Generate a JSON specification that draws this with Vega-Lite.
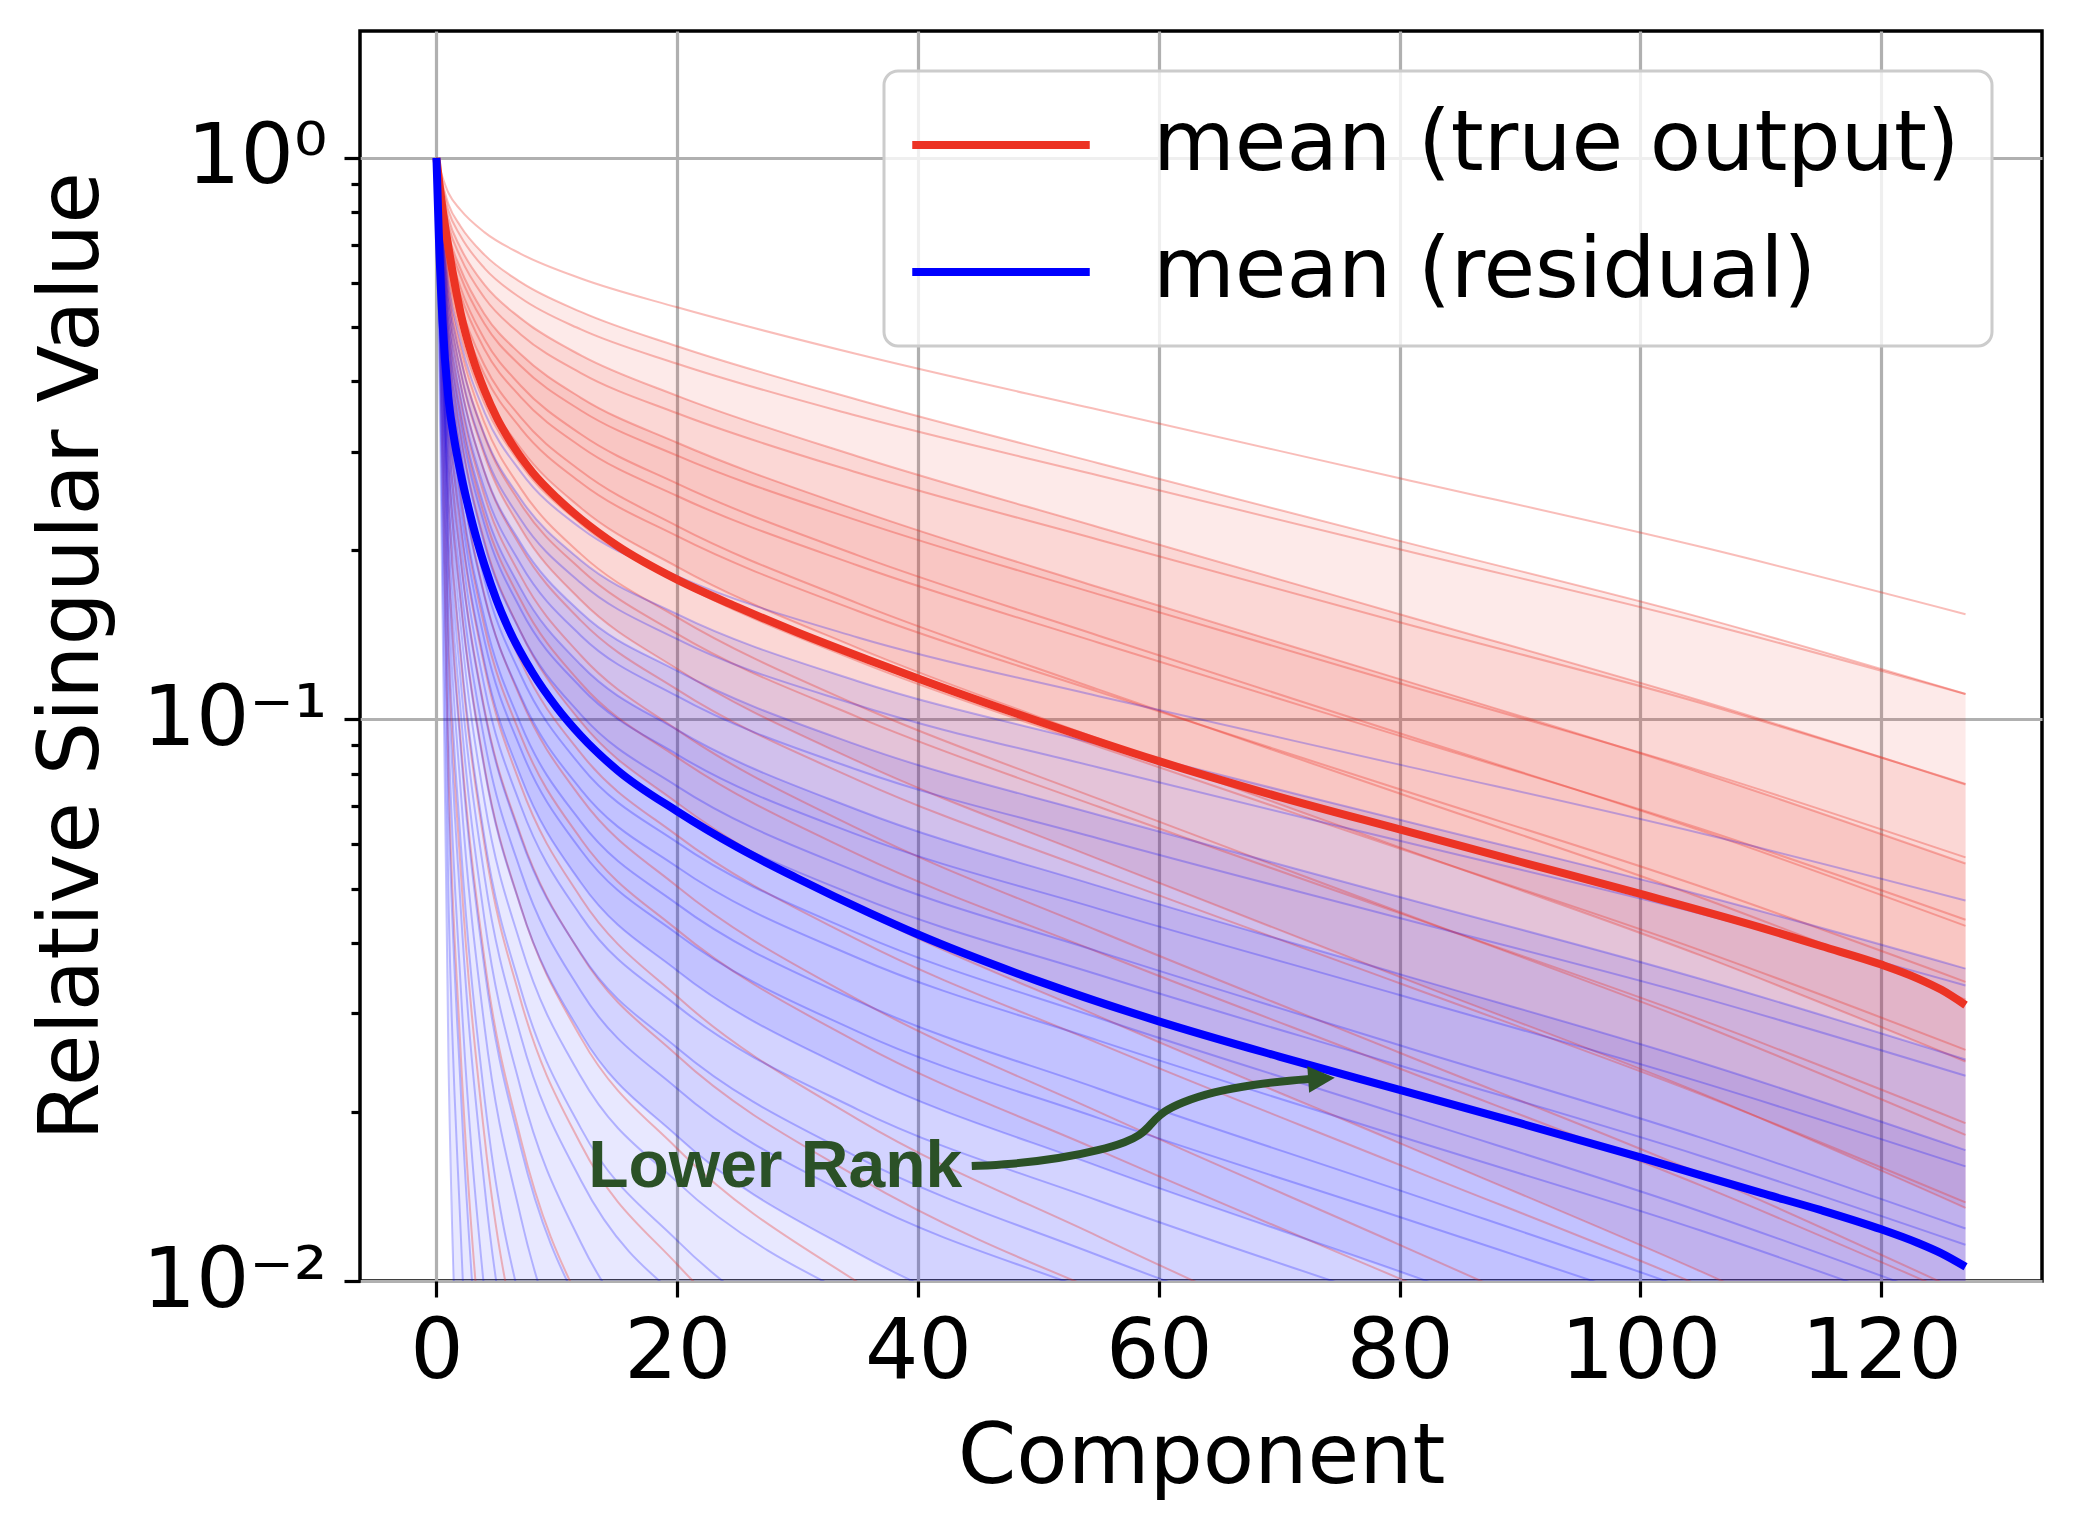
{
  "$schema": "https://vega.github.io/schema/vega-lite/v6.json",
  "width": 1682,
  "height": 1250,
  "autosize": {"type": "none"},
  "padding": {"left": 360, "top": 31, "right": 36, "bottom": 249},
  "background": "white",
  "config": {
    "font": "DejaVu Sans",
    "view": {"stroke": "black", "strokeWidth": 3.5},
    "axis": {
      "domain": false,
      "gridColor": "#b0b0b0",
      "gridWidth": 3.2,
      "tickColor": "black",
      "tickWidth": 3.2,
      "labelColor": "black",
      "titleColor": "black",
      "labelFont": "DejaVu Sans",
      "titleFont": "DejaVu Sans",
      "labelFontSize": 84,
      "titleFontSize": 84,
      "titleFontWeight": "normal",
      "labelLimit": 0
    },
    "legend": {"strokeWidth": 3, "strokeColor": "#cccccc", "fillColor": "rgba(255,255,255,0.8)", "cornerRadius": 14}
  },
  "datasets": {
    "redA1": [
      {"x":0,"y":1,"y2":1},{"x":1,"y":0.827,"y2":0.458},{"x":2,"y":0.756,"y2":0.322},{"x":4,"y":0.672,"y2":0.207},{"x":7,"y":0.601,"y2":0.143},{"x":12,"y":0.532,"y2":0.099},{"x":20,"y":0.462,"y2":0.071},{"x":35,"y":0.371,"y2":0.046},{"x":55,"y":0.286,"y2":0.0296},{"x":80,"y":0.208,"y2":0.0176},{"x":105,"y":0.152,"y2":0.0104},{"x":127,"y":0.111,"y2":0.0063}
    ],
    "redA2": [
      {"x":0,"y":1,"y2":1},{"x":1,"y":0.779,"y2":0.548},{"x":2,"y":0.692,"y2":0.416},{"x":4,"y":0.594,"y2":0.295},{"x":7,"y":0.518,"y2":0.219},{"x":12,"y":0.445,"y2":0.163},{"x":20,"y":0.377,"y2":0.123},{"x":35,"y":0.294,"y2":0.0842},{"x":55,"y":0.22,"y2":0.0564},{"x":80,"y":0.154,"y2":0.0348},{"x":105,"y":0.108,"y2":0.0216},{"x":127,"y":0.0766,"y2":0.0135}
    ],
    "redA3": [
      {"x":0,"y":1,"y2":1},{"x":1,"y":0.733,"y2":0.627},{"x":2,"y":0.635,"y2":0.505},{"x":4,"y":0.527,"y2":0.385},{"x":7,"y":0.447,"y2":0.304},{"x":12,"y":0.374,"y2":0.238},{"x":20,"y":0.311,"y2":0.187},{"x":35,"y":0.236,"y2":0.134},{"x":55,"y":0.172,"y2":0.0924},{"x":80,"y":0.118,"y2":0.0592},{"x":105,"y":0.0804,"y2":0.038},{"x":127,"y":0.0554,"y2":0.0246}
    ],
    "blueA1": [
      {"x":0,"y":1,"y2":1},{"x":1,"y":0.568,"y2":0.03},{"x":2,"y":0.441,"y2":0.004},{"x":4,"y":0.321,"y2":0.002},{"x":7,"y":0.247,"y2":0.002},{"x":12,"y":0.192,"y2":0.002},{"x":20,"y":0.154,"y2":0.002},{"x":35,"y":0.117,"y2":0.002},{"x":55,"y":0.0903,"y2":0.002},{"x":80,"y":0.0663,"y2":0.002},{"x":105,"y":0.0487,"y2":0.002},{"x":127,"y":0.036,"y2":0.002}
    ],
    "blueA2": [
      {"x":0,"y":1,"y2":1},{"x":1,"y":0.527,"y2":0.284},{"x":2,"y":0.396,"y2":0.162},{"x":4,"y":0.276,"y2":0.0812},{"x":7,"y":0.206,"y2":0.0463},{"x":12,"y":0.155,"y2":0.0276},{"x":20,"y":0.122,"y2":0.0181},{"x":35,"y":0.09,"y2":0.0112},{"x":55,"y":0.0676,"y2":0.0074},{"x":80,"y":0.0483,"y2":0.005},{"x":105,"y":0.0345,"y2":0.003},{"x":127,"y":0.0248,"y2":0.002}
    ],
    "blueA3": [
      {"x":0,"y":1,"y2":1},{"x":1,"y":0.489,"y2":0.355},{"x":2,"y":0.355,"y2":0.224},{"x":4,"y":0.238,"y2":0.126},{"x":7,"y":0.171,"y2":0.0791},{"x":12,"y":0.125,"y2":0.0512},{"x":20,"y":0.0958,"y2":0.0357},{"x":35,"y":0.069,"y2":0.0234},{"x":55,"y":0.0505,"y2":0.016},{"x":80,"y":0.0352,"y2":0.0104},{"x":105,"y":0.0245,"y2":0.0067},{"x":127,"y":0.0171,"y2":0.0045}
    ],
    "red": [
      {"id":"R1","x":0,"y":1},{"id":"R1","x":1,"y":0.866},{"id":"R1","x":2,"y":0.808},{"id":"R1","x":4,"y":0.737},{"id":"R1","x":7,"y":0.675},{"id":"R1","x":12,"y":0.61},{"id":"R1","x":20,"y":0.542},{"id":"R1","x":35,"y":0.447},{"id":"R1","x":55,"y":0.356},{"id":"R1","x":80,"y":0.269},{"id":"R1","x":105,"y":0.203},{"id":"R1","x":127,"y":0.154},
      {"id":"R2","x":0,"y":1},{"id":"R2","x":1,"y":0.827},{"id":"R2","x":2,"y":0.756},{"id":"R2","x":4,"y":0.672},{"id":"R2","x":7,"y":0.601},{"id":"R2","x":12,"y":0.532},{"id":"R2","x":20,"y":0.462},{"id":"R2","x":35,"y":0.371},{"id":"R2","x":55,"y":0.286},{"id":"R2","x":80,"y":0.208},{"id":"R2","x":105,"y":0.152},{"id":"R2","x":127,"y":0.111},
      {"id":"R3","x":0,"y":1},{"id":"R3","x":1,"y":0.804},{"id":"R3","x":2,"y":0.726},{"id":"R3","x":4,"y":0.636},{"id":"R3","x":7,"y":0.563},{"id":"R3","x":12,"y":0.495},{"id":"R3","x":20,"y":0.43},{"id":"R3","x":35,"y":0.347},{"id":"R3","x":55,"y":0.272},{"id":"R3","x":80,"y":0.201},{"id":"R3","x":105,"y":0.149},{"id":"R3","x":127,"y":0.111},
      {"id":"R4","x":0,"y":1},{"id":"R4","x":1,"y":0.779},{"id":"R4","x":2,"y":0.692},{"id":"R4","x":4,"y":0.594},{"id":"R4","x":7,"y":0.518},{"id":"R4","x":12,"y":0.445},{"id":"R4","x":20,"y":0.377},{"id":"R4","x":35,"y":0.294},{"id":"R4","x":55,"y":0.22},{"id":"R4","x":80,"y":0.154},{"id":"R4","x":105,"y":0.108},{"id":"R4","x":127,"y":0.0766},
      {"id":"R5","x":0,"y":1},{"id":"R5","x":1,"y":0.757},{"id":"R5","x":2,"y":0.665},{"id":"R5","x":4,"y":0.563},{"id":"R5","x":7,"y":0.485},{"id":"R5","x":12,"y":0.414},{"id":"R5","x":20,"y":0.351},{"id":"R5","x":35,"y":0.275},{"id":"R5","x":55,"y":0.209},{"id":"R5","x":80,"y":0.149},{"id":"R5","x":105,"y":0.107},{"id":"R5","x":127,"y":0.0768},
      {"id":"R6","x":0,"y":1},{"id":"R6","x":1,"y":0.733},{"id":"R6","x":2,"y":0.635},{"id":"R6","x":4,"y":0.527},{"id":"R6","x":7,"y":0.447},{"id":"R6","x":12,"y":0.374},{"id":"R6","x":20,"y":0.311},{"id":"R6","x":35,"y":0.236},{"id":"R6","x":55,"y":0.172},{"id":"R6","x":80,"y":0.118},{"id":"R6","x":105,"y":0.0804},{"id":"R6","x":127,"y":0.0554},
      {"id":"R7","x":0,"y":1},{"id":"R7","x":1,"y":0.718},{"id":"R7","x":2,"y":0.616},{"id":"R7","x":4,"y":0.506},{"id":"R7","x":7,"y":0.426},{"id":"R7","x":12,"y":0.355},{"id":"R7","x":20,"y":0.295},{"id":"R7","x":35,"y":0.226},{"id":"R7","x":55,"y":0.167},{"id":"R7","x":80,"y":0.116},{"id":"R7","x":105,"y":0.081},{"id":"R7","x":127,"y":0.0568},
      {"id":"R8","x":0,"y":1},{"id":"R8","x":1,"y":0.696},{"id":"R8","x":2,"y":0.588},{"id":"R8","x":4,"y":0.475},{"id":"R8","x":7,"y":0.393},{"id":"R8","x":12,"y":0.322},{"id":"R8","x":20,"y":0.263},{"id":"R8","x":35,"y":0.196},{"id":"R8","x":55,"y":0.141},{"id":"R8","x":80,"y":0.0945},{"id":"R8","x":105,"y":0.0634},{"id":"R8","x":127,"y":0.0429},
      {"id":"R9","x":0,"y":1},{"id":"R9","x":1,"y":0.681},{"id":"R9","x":2,"y":0.571},{"id":"R9","x":4,"y":0.456},{"id":"R9","x":7,"y":0.375},{"id":"R9","x":12,"y":0.306},{"id":"R9","x":20,"y":0.25},{"id":"R9","x":35,"y":0.188},{"id":"R9","x":55,"y":0.137},{"id":"R9","x":80,"y":0.0935},{"id":"R9","x":105,"y":0.0639},{"id":"R9","x":127,"y":0.044},
      {"id":"R10","x":0,"y":1},{"id":"R10","x":1,"y":0.66},{"id":"R10","x":2,"y":0.545},{"id":"R10","x":4,"y":0.427},{"id":"R10","x":7,"y":0.345},{"id":"R10","x":12,"y":0.277},{"id":"R10","x":20,"y":0.221},{"id":"R10","x":35,"y":0.161},{"id":"R10","x":55,"y":0.113},{"id":"R10","x":80,"y":0.0738},{"id":"R10","x":105,"y":0.0482},{"id":"R10","x":127,"y":0.0317},
      {"id":"R11","x":0,"y":1},{"id":"R11","x":1,"y":0.646},{"id":"R11","x":2,"y":0.529},{"id":"R11","x":4,"y":0.411},{"id":"R11","x":7,"y":0.33},{"id":"R11","x":12,"y":0.264},{"id":"R11","x":20,"y":0.212},{"id":"R11","x":35,"y":0.156},{"id":"R11","x":55,"y":0.112},{"id":"R11","x":80,"y":0.0751},{"id":"R11","x":105,"y":0.0504},{"id":"R11","x":127,"y":0.0341},
      {"id":"R12","x":0,"y":1},{"id":"R12","x":1,"y":0.627},{"id":"R12","x":2,"y":0.505},{"id":"R12","x":4,"y":0.385},{"id":"R12","x":7,"y":0.304},{"id":"R12","x":12,"y":0.238},{"id":"R12","x":20,"y":0.187},{"id":"R12","x":35,"y":0.134},{"id":"R12","x":55,"y":0.0924},{"id":"R12","x":80,"y":0.0592},{"id":"R12","x":105,"y":0.038},{"id":"R12","x":127,"y":0.0246},
      {"id":"R13","x":0,"y":1},{"id":"R13","x":1,"y":0.609},{"id":"R13","x":2,"y":0.486},{"id":"R13","x":4,"y":0.365},{"id":"R13","x":7,"y":0.285},{"id":"R13","x":12,"y":0.223},{"id":"R13","x":20,"y":0.176},{"id":"R13","x":35,"y":0.127},{"id":"R13","x":55,"y":0.0894},{"id":"R13","x":80,"y":0.0589},{"id":"R13","x":105,"y":0.0388},{"id":"R13","x":127,"y":0.0258},
      {"id":"R14","x":0,"y":1},{"id":"R14","x":1,"y":0.586},{"id":"R14","x":2,"y":0.459},{"id":"R14","x":4,"y":0.337},{"id":"R14","x":7,"y":0.258},{"id":"R14","x":12,"y":0.197},{"id":"R14","x":20,"y":0.152},{"id":"R14","x":35,"y":0.106},{"id":"R14","x":55,"y":0.0722},{"id":"R14","x":80,"y":0.0454},{"id":"R14","x":105,"y":0.0286},{"id":"R14","x":127,"y":0.0182},
      {"id":"R15","x":0,"y":1},{"id":"R15","x":1,"y":0.569},{"id":"R15","x":2,"y":0.441},{"id":"R15","x":4,"y":0.319},{"id":"R15","x":7,"y":0.242},{"id":"R15","x":12,"y":0.185},{"id":"R15","x":20,"y":0.142},{"id":"R15","x":35,"y":0.101},{"id":"R15","x":55,"y":0.0699},{"id":"R15","x":80,"y":0.0452},{"id":"R15","x":105,"y":0.0292},{"id":"R15","x":127,"y":0.0191},
      {"id":"R16","x":0,"y":1},{"id":"R16","x":1,"y":0.548},{"id":"R16","x":2,"y":0.416},{"id":"R16","x":4,"y":0.295},{"id":"R16","x":7,"y":0.219},{"id":"R16","x":12,"y":0.163},{"id":"R16","x":20,"y":0.123},{"id":"R16","x":35,"y":0.0842},{"id":"R16","x":55,"y":0.0564},{"id":"R16","x":80,"y":0.0348},{"id":"R16","x":105,"y":0.0216},{"id":"R16","x":127,"y":0.0135},
      {"id":"R17","x":0,"y":1},{"id":"R17","x":1,"y":0.529},{"id":"R17","x":2,"y":0.396},{"id":"R17","x":4,"y":0.275},{"id":"R17","x":7,"y":0.203},{"id":"R17","x":12,"y":0.15},{"id":"R17","x":20,"y":0.113},{"id":"R17","x":35,"y":0.078},{"id":"R17","x":55,"y":0.0533},{"id":"R17","x":80,"y":0.0339},{"id":"R17","x":105,"y":0.0215},{"id":"R17","x":127,"y":0.0138},
      {"id":"R18","x":0,"y":1},{"id":"R18","x":1,"y":0.505},{"id":"R18","x":2,"y":0.37},{"id":"R18","x":4,"y":0.25},{"id":"R18","x":7,"y":0.18},{"id":"R18","x":12,"y":0.13},{"id":"R18","x":20,"y":0.0958},{"id":"R18","x":35,"y":0.0639},{"id":"R18","x":55,"y":0.042},{"id":"R18","x":80,"y":0.0255},{"id":"R18","x":105,"y":0.0155},{"id":"R18","x":127,"y":0.0095},
      {"id":"R19","x":0,"y":1},{"id":"R19","x":1,"y":0.483},{"id":"R19","x":2,"y":0.348},{"id":"R19","x":4,"y":0.23},{"id":"R19","x":7,"y":0.163},{"id":"R19","x":12,"y":0.116},{"id":"R19","x":20,"y":0.0856},{"id":"R19","x":35,"y":0.0575},{"id":"R19","x":55,"y":0.0385},{"id":"R19","x":80,"y":0.0239},{"id":"R19","x":105,"y":0.0148},{"id":"R19","x":127,"y":0.0093},
      {"id":"R20","x":0,"y":1},{"id":"R20","x":1,"y":0.458},{"id":"R20","x":2,"y":0.322},{"id":"R20","x":4,"y":0.207},{"id":"R20","x":7,"y":0.143},{"id":"R20","x":12,"y":0.099},{"id":"R20","x":20,"y":0.071},{"id":"R20","x":35,"y":0.046},{"id":"R20","x":55,"y":0.0296},{"id":"R20","x":80,"y":0.0176},{"id":"R20","x":105,"y":0.0104},{"id":"R20","x":127,"y":0.0063},
      {"id":"R21","x":0,"y":1},{"id":"R21","x":1,"y":0.436},{"id":"R21","x":2,"y":0.3},{"id":"R21","x":4,"y":0.187},{"id":"R21","x":7,"y":0.127},{"id":"R21","x":12,"y":0.087},{"id":"R21","x":20,"y":0.0621},{"id":"R21","x":35,"y":0.0405},{"id":"R21","x":55,"y":0.0265},{"id":"R21","x":80,"y":0.0161},{"id":"R21","x":105,"y":0.0098},{"id":"R21","x":127,"y":0.006},
      {"id":"R22","x":0,"y":1},{"id":"R22","x":1,"y":0.41},{"id":"R22","x":2,"y":0.274},{"id":"R22","x":4,"y":0.166},{"id":"R22","x":7,"y":0.109},{"id":"R22","x":12,"y":0.0725},{"id":"R22","x":20,"y":0.0504},{"id":"R22","x":35,"y":0.0317},{"id":"R22","x":55,"y":0.02},{"id":"R22","x":80,"y":0.0116},{"id":"R22","x":105,"y":0.0067},
      {"id":"R23","x":0,"y":1},{"id":"R23","x":1,"y":0.384},{"id":"R23","x":2,"y":0.25},{"id":"R23","x":4,"y":0.146},{"id":"R23","x":7,"y":0.0936},{"id":"R23","x":12,"y":0.0612},{"id":"R23","x":20,"y":0.0422},{"id":"R23","x":35,"y":0.0266},{"id":"R23","x":55,"y":0.0171},{"id":"R23","x":80,"y":0.0101},{"id":"R23","x":105,"y":0.006},
      {"id":"R24","x":0,"y":1},{"id":"R24","x":1,"y":0.353},{"id":"R24","x":2,"y":0.221},{"id":"R24","x":4,"y":0.124},{"id":"R24","x":7,"y":0.0763},{"id":"R24","x":12,"y":0.0481},{"id":"R24","x":20,"y":0.0321},{"id":"R24","x":35,"y":0.0194},{"id":"R24","x":55,"y":0.012},{"id":"R24","x":80,"y":0.0068},
      {"id":"R25","x":0,"y":1},{"id":"R25","x":1,"y":0.324},{"id":"R25","x":2,"y":0.195},{"id":"R25","x":4,"y":0.104},{"id":"R25","x":7,"y":0.0622},{"id":"R25","x":12,"y":0.0382},{"id":"R25","x":20,"y":0.0252},{"id":"R25","x":35,"y":0.0153},{"id":"R25","x":55,"y":0.0096},
      {"id":"R26","x":0,"y":1},{"id":"R26","x":1,"y":0.287},{"id":"R26","x":2,"y":0.164},{"id":"R26","x":4,"y":0.082},{"id":"R26","x":7,"y":0.0464},{"id":"R26","x":12,"y":0.0271},{"id":"R26","x":20,"y":0.0172},{"id":"R26","x":35,"y":0.00995},{"id":"R26","x":55,"y":0.006},
      {"id":"R27","x":0,"y":1},{"id":"R27","x":1,"y":0.244},{"id":"R27","x":2,"y":0.13},{"id":"R27","x":4,"y":0.0596},{"id":"R27","x":7,"y":0.0316},{"id":"R27","x":12,"y":0.0175},{"id":"R27","x":20,"y":0.0107},{"id":"R27","x":35,"y":0.006},
      {"id":"R28","x":0,"y":1},{"id":"R28","x":1,"y":0.193},{"id":"R28","x":2,"y":0.0926},{"id":"R28","x":4,"y":0.0373},{"id":"R28","x":7,"y":0.0179},{"id":"R28","x":12,"y":0.0091},
      {"id":"R29","x":0,"y":1},{"id":"R29","x":1,"y":0.133},{"id":"R29","x":2,"y":0.0544},{"id":"R29","x":4,"y":0.018},{"id":"R29","x":7,"y":0.0074},
      {"id":"R30","x":0,"y":1},{"id":"R30","x":1,"y":0.0794},{"id":"R30","x":2,"y":0.0258},{"id":"R30","x":4,"y":0.0065}
    ],
    "blue": [
      {"id":"B1","x":0,"y":1},{"id":"B1","x":1,"y":0.594},{"id":"B1","x":2,"y":0.471},{"id":"B1","x":4,"y":0.352},{"id":"B1","x":7,"y":0.276},{"id":"B1","x":12,"y":0.219},{"id":"B1","x":20,"y":0.18},{"id":"B1","x":35,"y":0.14},{"id":"B1","x":55,"y":0.11},{"id":"B1","x":80,"y":0.0831},{"id":"B1","x":105,"y":0.0627},{"id":"B1","x":127,"y":0.0476},
      {"id":"B2","x":0,"y":1},{"id":"B2","x":1,"y":0.568},{"id":"B2","x":2,"y":0.441},{"id":"B2","x":4,"y":0.321},{"id":"B2","x":7,"y":0.247},{"id":"B2","x":12,"y":0.192},{"id":"B2","x":20,"y":0.154},{"id":"B2","x":35,"y":0.117},{"id":"B2","x":55,"y":0.0903},{"id":"B2","x":80,"y":0.0663},{"id":"B2","x":105,"y":0.0487},{"id":"B2","x":127,"y":0.036},
      {"id":"B3","x":0,"y":1},{"id":"B3","x":1,"y":0.548},{"id":"B3","x":2,"y":0.418},{"id":"B3","x":4,"y":0.299},{"id":"B3","x":7,"y":0.227},{"id":"B3","x":12,"y":0.175},{"id":"B3","x":20,"y":0.139},{"id":"B3","x":35,"y":0.106},{"id":"B3","x":55,"y":0.0821},{"id":"B3","x":80,"y":0.0608},{"id":"B3","x":105,"y":0.0451},{"id":"B3","x":127,"y":0.0336},
      {"id":"B4","x":0,"y":1},{"id":"B4","x":1,"y":0.527},{"id":"B4","x":2,"y":0.396},{"id":"B4","x":4,"y":0.276},{"id":"B4","x":7,"y":0.206},{"id":"B4","x":12,"y":0.155},{"id":"B4","x":20,"y":0.122},{"id":"B4","x":35,"y":0.09},{"id":"B4","x":55,"y":0.0676},{"id":"B4","x":80,"y":0.0483},{"id":"B4","x":105,"y":0.0345},{"id":"B4","x":127,"y":0.0248},
      {"id":"B5","x":0,"y":1},{"id":"B5","x":1,"y":0.508},{"id":"B5","x":2,"y":0.375},{"id":"B5","x":4,"y":0.257},{"id":"B5","x":7,"y":0.189},{"id":"B5","x":12,"y":0.141},{"id":"B5","x":20,"y":0.11},{"id":"B5","x":35,"y":0.0813},{"id":"B5","x":55,"y":0.0614},{"id":"B5","x":80,"y":0.0443},{"id":"B5","x":105,"y":0.032},{"id":"B5","x":127,"y":0.0232},
      {"id":"B6","x":0,"y":1},{"id":"B6","x":1,"y":0.489},{"id":"B6","x":2,"y":0.355},{"id":"B6","x":4,"y":0.238},{"id":"B6","x":7,"y":0.171},{"id":"B6","x":12,"y":0.125},{"id":"B6","x":20,"y":0.0958},{"id":"B6","x":35,"y":0.069},{"id":"B6","x":55,"y":0.0505},{"id":"B6","x":80,"y":0.0352},{"id":"B6","x":105,"y":0.0245},{"id":"B6","x":127,"y":0.0171},
      {"id":"B7","x":0,"y":1},{"id":"B7","x":1,"y":0.472},{"id":"B7","x":2,"y":0.337},{"id":"B7","x":4,"y":0.222},{"id":"B7","x":7,"y":0.157},{"id":"B7","x":12,"y":0.114},{"id":"B7","x":20,"y":0.0866},{"id":"B7","x":35,"y":0.0623},{"id":"B7","x":55,"y":0.046},{"id":"B7","x":80,"y":0.0323},{"id":"B7","x":105,"y":0.0226},{"id":"B7","x":127,"y":0.016},
      {"id":"B8","x":0,"y":1},{"id":"B8","x":1,"y":0.454},{"id":"B8","x":2,"y":0.319},{"id":"B8","x":4,"y":0.205},{"id":"B8","x":7,"y":0.143},{"id":"B8","x":12,"y":0.102},{"id":"B8","x":20,"y":0.076},{"id":"B8","x":35,"y":0.0535},{"id":"B8","x":55,"y":0.0386},{"id":"B8","x":80,"y":0.0263},{"id":"B8","x":105,"y":0.018},{"id":"B8","x":127,"y":0.0124},
      {"id":"B9","x":0,"y":1},{"id":"B9","x":1,"y":0.438},{"id":"B9","x":2,"y":0.303},{"id":"B9","x":4,"y":0.191},{"id":"B9","x":7,"y":0.132},{"id":"B9","x":12,"y":0.0924},{"id":"B9","x":20,"y":0.0688},{"id":"B9","x":35,"y":0.0484},{"id":"B9","x":55,"y":0.0351},{"id":"B9","x":80,"y":0.0242},{"id":"B9","x":105,"y":0.0167},{"id":"B9","x":127,"y":0.0116},
      {"id":"B10","x":0,"y":1},{"id":"B10","x":1,"y":0.422},{"id":"B10","x":2,"y":0.286},{"id":"B10","x":4,"y":0.177},{"id":"B10","x":7,"y":0.12},{"id":"B10","x":12,"y":0.0826},{"id":"B10","x":20,"y":0.0604},{"id":"B10","x":35,"y":0.0416},{"id":"B10","x":55,"y":0.0294},{"id":"B10","x":80,"y":0.0198},{"id":"B10","x":105,"y":0.0133},{"id":"B10","x":127,"y":0.009},
      {"id":"B11","x":0,"y":1},{"id":"B11","x":1,"y":0.406},{"id":"B11","x":2,"y":0.272},{"id":"B11","x":4,"y":0.165},{"id":"B11","x":7,"y":0.11},{"id":"B11","x":12,"y":0.075},{"id":"B11","x":20,"y":0.0546},{"id":"B11","x":35,"y":0.0376},{"id":"B11","x":55,"y":0.0268},{"id":"B11","x":80,"y":0.0181},{"id":"B11","x":105,"y":0.0123},{"id":"B11","x":127,"y":0.0084},
      {"id":"B12","x":0,"y":1},{"id":"B12","x":1,"y":0.388},{"id":"B12","x":2,"y":0.254},{"id":"B12","x":4,"y":0.151},{"id":"B12","x":7,"y":0.0981},{"id":"B12","x":12,"y":0.0657},{"id":"B12","x":20,"y":0.0469},{"id":"B12","x":35,"y":0.0315},{"id":"B12","x":55,"y":0.022},{"id":"B12","x":80,"y":0.0145},{"id":"B12","x":105,"y":0.0095},{"id":"B12","x":127,"y":0.0063},
      {"id":"B13","x":0,"y":1},{"id":"B13","x":1,"y":0.372},{"id":"B13","x":2,"y":0.239},{"id":"B13","x":4,"y":0.138},{"id":"B13","x":7,"y":0.0886},{"id":"B13","x":12,"y":0.0585},{"id":"B13","x":20,"y":0.0415},{"id":"B13","x":35,"y":0.0278},{"id":"B13","x":55,"y":0.0195},{"id":"B13","x":80,"y":0.013},{"id":"B13","x":105,"y":0.0086},{"id":"B13","x":127,"y":0.0058},
      {"id":"B14","x":0,"y":1},{"id":"B14","x":1,"y":0.355},{"id":"B14","x":2,"y":0.224},{"id":"B14","x":4,"y":0.126},{"id":"B14","x":7,"y":0.0791},{"id":"B14","x":12,"y":0.0512},{"id":"B14","x":20,"y":0.0357},{"id":"B14","x":35,"y":0.0234},{"id":"B14","x":55,"y":0.016},{"id":"B14","x":80,"y":0.0104},{"id":"B14","x":105,"y":0.0067},
      {"id":"B15","x":0,"y":1},{"id":"B15","x":1,"y":0.338},{"id":"B15","x":2,"y":0.208},{"id":"B15","x":4,"y":0.114},{"id":"B15","x":7,"y":0.0702},{"id":"B15","x":12,"y":0.0447},{"id":"B15","x":20,"y":0.0309},{"id":"B15","x":35,"y":0.0202},{"id":"B15","x":55,"y":0.0139},{"id":"B15","x":80,"y":0.0091},{"id":"B15","x":105,"y":0.0059},
      {"id":"B16","x":0,"y":1},{"id":"B16","x":1,"y":0.32},{"id":"B16","x":2,"y":0.193},{"id":"B16","x":4,"y":0.103},{"id":"B16","x":7,"y":0.0616},{"id":"B16","x":12,"y":0.0383},{"id":"B16","x":20,"y":0.026},{"id":"B16","x":35,"y":0.0166},{"id":"B16","x":55,"y":0.0111},{"id":"B16","x":80,"y":0.0071},
      {"id":"B17","x":0,"y":1},{"id":"B17","x":1,"y":0.302},{"id":"B17","x":2,"y":0.177},{"id":"B17","x":4,"y":0.0915},{"id":"B17","x":7,"y":0.0537},{"id":"B17","x":12,"y":0.0328},{"id":"B17","x":20,"y":0.022},{"id":"B17","x":35,"y":0.014},{"id":"B17","x":55,"y":0.0095},{"id":"B17","x":80,"y":0.0061},
      {"id":"B18","x":0,"y":1},{"id":"B18","x":1,"y":0.284},{"id":"B18","x":2,"y":0.162},{"id":"B18","x":4,"y":0.0812},{"id":"B18","x":7,"y":0.0463},{"id":"B18","x":12,"y":0.0276},{"id":"B18","x":20,"y":0.0181},{"id":"B18","x":35,"y":0.0112},{"id":"B18","x":55,"y":0.0074},
      {"id":"B19","x":0,"y":1},{"id":"B19","x":1,"y":0.266},{"id":"B19","x":2,"y":0.148},{"id":"B19","x":4,"y":0.0713},{"id":"B19","x":7,"y":0.0397},{"id":"B19","x":12,"y":0.0231},{"id":"B19","x":20,"y":0.015},{"id":"B19","x":35,"y":0.0093},
      {"id":"B20","x":0,"y":1},{"id":"B20","x":1,"y":0.247},{"id":"B20","x":2,"y":0.133},{"id":"B20","x":4,"y":0.0614},{"id":"B20","x":7,"y":0.0331},{"id":"B20","x":12,"y":0.0187},{"id":"B20","x":20,"y":0.0118},{"id":"B20","x":35,"y":0.0071},
      {"id":"B21","x":0,"y":1},{"id":"B21","x":1,"y":0.228},{"id":"B21","x":2,"y":0.118},{"id":"B21","x":4,"y":0.0524},{"id":"B21","x":7,"y":0.0273},{"id":"B21","x":12,"y":0.0151},{"id":"B21","x":20,"y":0.0094},
      {"id":"B22","x":0,"y":1},{"id":"B22","x":1,"y":0.208},{"id":"B22","x":2,"y":0.104},{"id":"B22","x":4,"y":0.0439},{"id":"B22","x":7,"y":0.022},{"id":"B22","x":12,"y":0.0117},{"id":"B22","x":20,"y":0.0071},
      {"id":"B23","x":0,"y":1},{"id":"B23","x":1,"y":0.188},{"id":"B23","x":2,"y":0.0895},{"id":"B23","x":4,"y":0.0359},{"id":"B23","x":7,"y":0.0173},{"id":"B23","x":12,"y":0.0089},
      {"id":"B24","x":0,"y":1},{"id":"B24","x":1,"y":0.167},{"id":"B24","x":2,"y":0.0754},{"id":"B24","x":4,"y":0.0283},{"id":"B24","x":7,"y":0.013},{"id":"B24","x":12,"y":0.0064},
      {"id":"B25","x":0,"y":1},{"id":"B25","x":1,"y":0.144},{"id":"B25","x":2,"y":0.0609},{"id":"B25","x":4,"y":0.0211},{"id":"B25","x":7,"y":0.0091},
      {"id":"B26","x":0,"y":1},{"id":"B26","x":1,"y":0.12},{"id":"B26","x":2,"y":0.0467},{"id":"B26","x":4,"y":0.0147},{"id":"B26","x":7,"y":0.0058},
      {"id":"B27","x":0,"y":1},{"id":"B27","x":1,"y":0.0959},{"id":"B27","x":2,"y":0.0339},{"id":"B27","x":4,"y":0.0095},
      {"id":"B28","x":0,"y":1},{"id":"B28","x":1,"y":0.0714},{"id":"B28","x":2,"y":0.0222},{"id":"B28","x":4,"y":0.0053},
      {"id":"B29","x":0,"y":1},{"id":"B29","x":1,"y":0.0475},{"id":"B29","x":2,"y":0.0124},{"id":"B29","x":4,"y":0.0024},
      {"id":"B30","x":0,"y":1},{"id":"B30","x":1,"y":0.0245},{"id":"B30","x":2,"y":0.0048}
    ],
    "means": [
      {"s":"mean (true output)","x":0,"y":1},{"s":"mean (true output)","x":0.5,"y":0.813},{"s":"mean (true output)","x":1,"y":0.692},{"s":"mean (true output)","x":1.5,"y":0.6},{"s":"mean (true output)","x":2,"y":0.53},{"s":"mean (true output)","x":3,"y":0.441},{"s":"mean (true output)","x":4,"y":0.385},{"s":"mean (true output)","x":5,"y":0.345},{"s":"mean (true output)","x":6,"y":0.316},{"s":"mean (true output)","x":8,"y":0.275},{"s":"mean (true output)","x":10,"y":0.248},{"s":"mean (true output)","x":12,"y":0.2275},{"s":"mean (true output)","x":15,"y":0.204},{"s":"mean (true output)","x":20,"y":0.1774},{"s":"mean (true output)","x":25,"y":0.1585},{"s":"mean (true output)","x":30,"y":0.1429},{"s":"mean (true output)","x":36,"y":0.1274},{"s":"mean (true output)","x":40,"y":0.1183},{"s":"mean (true output)","x":50,"y":0.0993},{"s":"mean (true output)","x":60,"y":0.0843},{"s":"mean (true output)","x":70,"y":0.0728},{"s":"mean (true output)","x":80,"y":0.0637},{"s":"mean (true output)","x":90,"y":0.0558},{"s":"mean (true output)","x":100,"y":0.0489},{"s":"mean (true output)","x":110,"y":0.0426},{"s":"mean (true output)","x":115,"y":0.0395},{"s":"mean (true output)","x":120,"y":0.0366},{"s":"mean (true output)","x":123,"y":0.0346},{"s":"mean (true output)","x":125,"y":0.033},{"s":"mean (true output)","x":127,"y":0.031},
      {"s":"mean (residual)","x":0,"y":1},{"s":"mean (residual)","x":0.2,"y":0.724},{"s":"mean (residual)","x":0.5,"y":0.513},{"s":"mean (residual)","x":1,"y":0.372},{"s":"mean (residual)","x":1.5,"y":0.313},{"s":"mean (residual)","x":2,"y":0.275},{"s":"mean (residual)","x":3,"y":0.223},{"s":"mean (residual)","x":4,"y":0.188},{"s":"mean (residual)","x":5,"y":0.163},{"s":"mean (residual)","x":6,"y":0.145},{"s":"mean (residual)","x":8,"y":0.121},{"s":"mean (residual)","x":10,"y":0.105},{"s":"mean (residual)","x":12,"y":0.0935},{"s":"mean (residual)","x":15,"y":0.0813},{"s":"mean (residual)","x":20,"y":0.0686},{"s":"mean (residual)","x":25,"y":0.0592},{"s":"mean (residual)","x":30,"y":0.0521},{"s":"mean (residual)","x":36,"y":0.0452},{"s":"mean (residual)","x":40,"y":0.0414},{"s":"mean (residual)","x":50,"y":0.0342},{"s":"mean (residual)","x":60,"y":0.029},{"s":"mean (residual)","x":70,"y":0.0251},{"s":"mean (residual)","x":80,"y":0.0219},{"s":"mean (residual)","x":90,"y":0.0191},{"s":"mean (residual)","x":100,"y":0.0166},{"s":"mean (residual)","x":110,"y":0.01435},{"s":"mean (residual)","x":115,"y":0.01337},{"s":"mean (residual)","x":120,"y":0.01236},{"s":"mean (residual)","x":123,"y":0.0117},{"s":"mean (residual)","x":125,"y":0.0112},{"s":"mean (residual)","x":127,"y":0.0106}
    ],
    "arrow": [
      {"x":44.46,"y":0.01602},{"x":47.64,"y":0.01613},{"x":51.79,"y":0.01653},{"x":55.11,"y":0.0171},{"x":57.33,"y":0.01769},{"x":58.43,"y":0.01819},{"x":59.12,"y":0.01877},{"x":59.68,"y":0.0194},{"x":60.37,"y":0.02001},{"x":61.76,"y":0.02077},{"x":64.52,"y":0.02173},{"x":67.84,"y":0.02239},{"x":71.17,"y":0.02279},{"x":72.55,"y":0.02289}
    ],
    "head": [{"x":73.51,"y":0.02293}],
    "note": [{"x":12.6,"y":0.01468,"label":"Lower Rank"}]
  },
  "encoding": {
    "x": {
      "field": "x",
      "type": "quantitative",
      "scale": {"domain": [-6.35, 133.35], "nice": false, "zero": false},
      "axis": {"values": [0, 20, 40, 60, 80, 100, 120], "title": "Component", "tickSize": 16, "labelPadding": 14, "titlePadding": 22, "labelFlush": false}
    },
    "y": {
      "field": "y",
      "type": "quantitative",
      "scale": {"type": "log", "domain": [0.01, 1.683], "nice": false},
      "axis": {
        "values": [0.01, 0.02, 0.03, 0.04, 0.05, 0.06, 0.07, 0.08, 0.09, 0.1, 0.2, 0.3, 0.4, 0.5, 0.6, 0.7, 0.8, 0.9, 1],
        "title": "Relative Singular Value",
        "labelExpr": "datum.value == 1 ? '10⁰' : datum.value == 0.1 ? '10⁻¹' : datum.value == 0.01 ? '10⁻²' : ''",
        "labelOverlap": false,
        "labelBaseline": "middle",
        "tickSize": {"condition": {"test": "datum.value == 1 || datum.value == 0.1 || datum.value == 0.01", "value": 16}, "value": 9},
        "gridOpacity": {"condition": {"test": "datum.value == 1 || datum.value == 0.1 || datum.value == 0.01", "value": 1}, "value": 0},
        "labelPadding": 17,
        "titlePadding": 45
      }
    }
  },
  "layer": [
    {
      "data": {"name": "redA1"},
      "mark": {"type": "area", "color": "#ec3324", "opacity": 0.1, "interpolate": "monotone", "clip": true},
      "encoding": {"y2": {"field": "y2"}}
    },
    {
      "data": {"name": "redA2"},
      "mark": {"type": "area", "color": "#ec3324", "opacity": 0.1, "interpolate": "monotone", "clip": true},
      "encoding": {"y2": {"field": "y2"}}
    },
    {
      "data": {"name": "redA3"},
      "mark": {"type": "area", "color": "#ec3324", "opacity": 0.1, "interpolate": "monotone", "clip": true},
      "encoding": {"y2": {"field": "y2"}}
    },
    {
      "data": {"name": "blueA1"},
      "mark": {"type": "area", "color": "#0000ff", "opacity": 0.09, "interpolate": "monotone", "clip": true},
      "encoding": {"y2": {"field": "y2"}}
    },
    {
      "data": {"name": "blueA2"},
      "mark": {"type": "area", "color": "#0000ff", "opacity": 0.09, "interpolate": "monotone", "clip": true},
      "encoding": {"y2": {"field": "y2"}}
    },
    {
      "data": {"name": "blueA3"},
      "mark": {"type": "area", "color": "#0000ff", "opacity": 0.08, "interpolate": "monotone", "clip": true},
      "encoding": {"y2": {"field": "y2"}}
    },
    {
      "data": {"name": "red"},
      "mark": {"type": "line", "color": "#ec3324", "strokeWidth": 2, "opacity": 0.32, "interpolate": "monotone", "clip": true},
      "encoding": {"detail": {"field": "id"}}
    },
    {
      "data": {"name": "blue"},
      "mark": {"type": "line", "color": "#0000ff", "strokeWidth": 2, "opacity": 0.24, "interpolate": "monotone", "clip": true},
      "encoding": {"detail": {"field": "id"}}
    },
    {
      "data": {"name": "means"},
      "mark": {"type": "line", "strokeWidth": 8, "interpolate": "monotone", "clip": true},
      "encoding": {
        "color": {
          "field": "s",
          "type": "nominal",
          "scale": {"domain": ["mean (true output)", "mean (residual)"], "range": ["#ec3324", "#0000ff"]},
          "legend": {
            "title": null,
            "orient": "none",
            "legendX": 524,
            "legendY": 40,
            "symbolType": "M-2.5,0H2.5",
            "symbolSize": 5041,
            "symbolStrokeWidth": 8,
            "symbolOffset": 43,
            "labelOffset": 110,
            "labelFontSize": 84,
            "labelFont": "DejaVu Sans",
            "labelColor": "black",
            "labelLimit": 0,
            "padding": 32,
            "rowPadding": 43
          }
        }
      }
    },
    {
      "data": {"name": "arrow"},
      "mark": {"type": "line", "color": "#2b5127", "strokeWidth": 8, "interpolate": "basis"},
      "encoding": {}
    },
    {
      "data": {"name": "head"},
      "mark": {"type": "point", "shape": "M-1,-1L1,0L-1,1Z", "size": 713, "filled": true, "color": "#2b5127", "opacity": 1, "angle": -4}
    },
    {
      "data": {"name": "note"},
      "mark": {"type": "text", "font": "Liberation Sans", "fontWeight": "bold", "fontSize": 66, "color": "#2b5127", "align": "left", "baseline": "alphabetic"},
      "encoding": {"text": {"field": "label"}}
    }
  ]
}
